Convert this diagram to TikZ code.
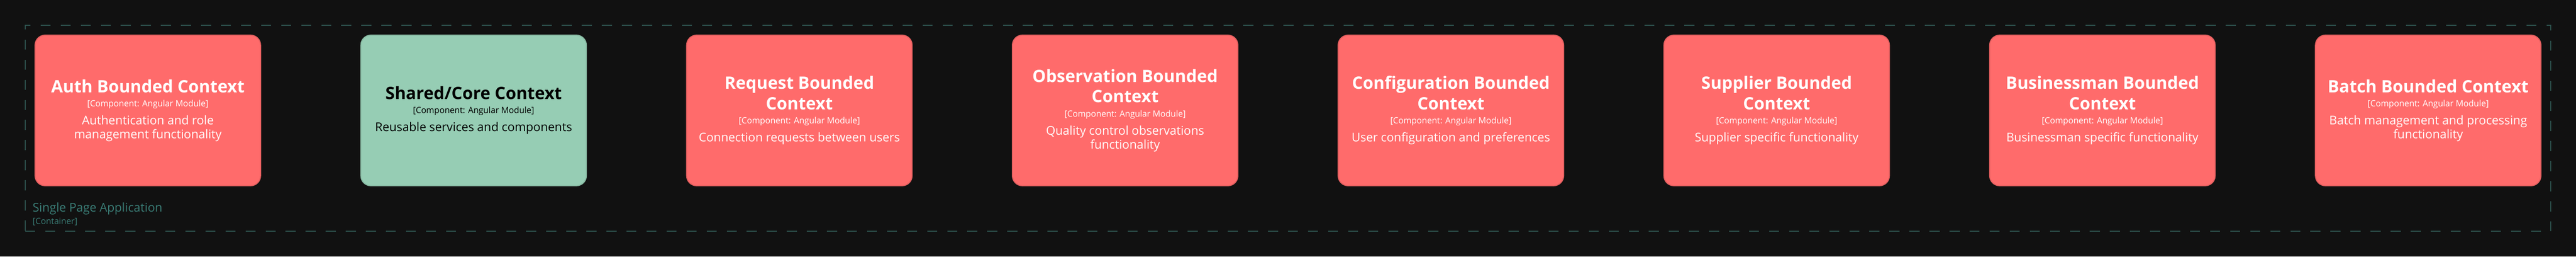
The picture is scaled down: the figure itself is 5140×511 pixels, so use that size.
\documentclass[tikz,border=0pt]{standalone}
\usepackage{fontspec}
\setmainfont{Open Sans}
\usepackage{tikz}

\definecolor{bgdark}{HTML}{111111}
\definecolor{ctxred}{HTML}{FF6B6B}
\definecolor{ctxredline}{HTML}{E35F5F}
\definecolor{ctxgreen}{HTML}{96CDB4}
\definecolor{ctxgreenline}{HTML}{86B8A1}
\definecolor{spaline}{HTML}{2C504C}
\definecolor{spatext}{HTML}{3A7D76}

\begin{document}
\begin{tikzpicture}
		[x=1pt, y=-1pt,
		ctx/.style = {draw=ctxredline, fill=ctxred, line width=2pt, rounded corners=20pt, minimum width=450pt, minimum height=300pt, text width=430pt, align=center, inner sep=0pt, text=white},
		core/.style = {ctx, draw=ctxgreenline, fill=ctxgreen, text=black},
		spa/.style = {draw=spaline, line width=2pt, dash pattern=on 20pt off 20pt, minimum width=5040pt, minimum height=411pt, inner sep=0pt},
		lbl/.style = {anchor=base west, inner sep=0pt, text=spatext}]
		
		\useasboundingbox (0,0) rectangle (5140,511);
		\fill[bgdark] (0,0) rectangle (5140,511);
		
		\node[spa] (spa) at (2570,255.5) {};
		\node[lbl, font=\fontsize{24}{28}\selectfont] (spaname) at (65,422) {Single Page Application};
		\node[lbl, font=\fontsize{17}{22}\selectfont] (spatype) at (65,447) {[Container]};
		
		\foreach \x/\alph/\name/\desc in {
			295/auth/Auth Bounded Context/Authentication and role\\management functionality,
			1595/request/Request Bounded\\Context/Connection requests between users,
			2245/observation/Observation Bounded\\Context/Quality control observations\\functionality,
			2895/configuration/Configuration Bounded\\Context/User configuration and preferences,
			3545/supplier/Supplier Bounded\\Context/Supplier specific functionality,
			4195/businessman/Businessman Bounded\\Context/Businessman specific functionality,
			4845/batch/Batch Bounded Context/Batch management and processing\\functionality}{
			\node[ctx] (\alph) at (\x,220) {\centering\spaceskip=0pt\xspaceskip=0pt{\fontsize{34}{41}\selectfont\bfseries \name\par}{\fontsize{17}{28}\selectfont [Component: Angular Module]\par}\vskip 8pt{\fontsize{24}{28}\selectfont \desc\par}};
		}
		
		\node[core] (shared) at (945,220) {\centering\spaceskip=0pt\xspaceskip=0pt{\fontsize{34}{41}\selectfont\bfseries Shared/Core Context\par}{\fontsize{17}{28}\selectfont [Component: Angular Module]\par}\vskip 8pt{\fontsize{24}{28}\selectfont Reusable services and components\par}};
	\end{tikzpicture}
\end{document}
